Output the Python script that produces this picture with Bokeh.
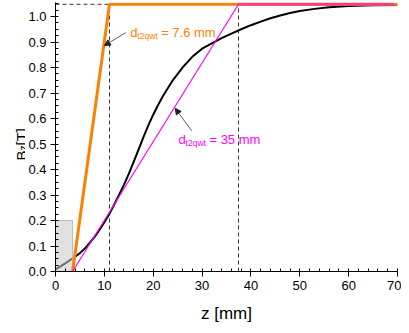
import math
from bokeh.plotting import figure
from bokeh.layouts import row
from bokeh.models import Range1d, Label, Arrow, NormalHead, SingleIntervalTicker, PrintfTickFormatter
from bokeh.core.properties import value
from bokeh.embed import file_html
from bokeh.resources import INLINE

# ---- data ----
z_meas = [0, 1, 2, 3, 4, 5, 6, 7, 8, 9, 10, 11, 12, 13, 14, 15, 16, 17, 18, 19, 20,
          21, 22, 24, 26, 28, 30, 32, 34, 36, 38, 40, 42, 44, 46, 48, 50, 53, 56, 60, 65, 70]
bz_meas = [0.008, 0.020, 0.032, 0.045, 0.058, 0.072, 0.090, 0.112, 0.136, 0.163, 0.193,
           0.225, 0.262, 0.300, 0.340, 0.383, 0.430, 0.478, 0.527, 0.573, 0.615,
           0.653, 0.688, 0.750, 0.800, 0.842, 0.874, 0.895, 0.915, 0.933, 0.950, 0.966,
           0.980, 0.993, 1.004, 1.014, 1.022, 1.030, 1.036, 1.041, 1.044, 1.045]

orange_z = [3.5, 11.05, 70.0]
orange_b = [0.0, 1.048, 1.048]
magenta_z = [3.5, 37.46, 69.2]
magenta_b = [0.0, 1.048, 1.048]

guide_x = [11.05, 37.46]
guide_top = 1.048

shade_x = [0.0, 3.5]
shade_y = [0.0, 0.2]

x_limits = [0, 70]
y_limits = [0, 1.055]

label_orange = ["d", "t2qwt", " = 7.6 mm"]
label_magenta = ["d", "t2qwt", " = 35 mm"]
y_title = ["B", "z", " [T]"]
x_title = "z [mm]"

FONT = "Liberation Sans"
ORANGE = "#FF8000"
MAGENTA = "#FF00FF"
PINK = "#F5407A"

H = 325
LW = 25

# ---------- main plot ----------
p = figure(width=401 - LW, height=H, output_backend="svg", toolbar_location=None,
           x_range=Range1d(*x_limits), y_range=Range1d(*y_limits),
           min_border_left=54 - LW, min_border_right=4, min_border_top=2, min_border_bottom=44)
p.outline_line_color = None
p.grid.visible = False
p.background_fill_color = "white"
p.border_fill_color = "white"

p.xaxis.ticker = SingleIntervalTicker(interval=10, num_minor_ticks=5)
p.yaxis.ticker = SingleIntervalTicker(interval=0.1, num_minor_ticks=4)
p.yaxis.formatter = PrintfTickFormatter(format="%.1f")
for ax in (p.xaxis[0], p.yaxis[0]):
    ax.axis_line_color = "black"
    ax.axis_line_width = 1
    ax.major_tick_line_color = "black"
    ax.minor_tick_line_color = "black"
    ax.major_tick_out = 5
    ax.major_tick_in = 0
    ax.minor_tick_out = 0
    ax.minor_tick_in = 3
    ax.major_label_text_font = FONT
    ax.major_label_text_font_size = "13px"
    ax.major_label_text_color = "black"
    ax.major_label_standoff = 4
p.xaxis.axis_label = x_title
p.xaxis.axis_label_text_font = FONT
p.xaxis.axis_label_text_font_size = "17px"
p.xaxis.axis_label_text_font_style = "normal"
p.xaxis.axis_label_text_color = "black"
p.xaxis.axis_label_standoff = 11

# dashed guides
p.segment(x0=guide_x, y0=[0, 0], x1=guide_x, y1=[guide_top, guide_top],
          line_color="#333333", line_width=1, line_dash="4 3")
p.segment(x0=[x_limits[0]], y0=[guide_top], x1=[guide_x[0]], y1=[guide_top],
          line_color="#333333", line_width=1, line_dash="4 3")

# measured curve
p.line(z_meas, bz_meas, line_color="black", line_width=2)

# shaded region
p.quad(left=[shade_x[0]], right=[shade_x[1]], bottom=[shade_y[0]], top=[shade_y[1]],
       fill_color="#C8C8C8", fill_alpha=0.55, line_color="#B8B8B8", line_width=1)

# ramps
p.line(orange_z, orange_b, line_color=ORANGE, line_width=3)
p.line(magenta_z[1:], magenta_b[1:], line_color=PINK, line_width=3)
p.line(magenta_z[:2], magenta_b[:2], line_color=MAGENTA, line_width=1.2)

# annotations with subscripts
def sub_label(x, y, parts, color, size=13, sub_size=8.5):
    dy = 3.6 / 264.0
    p.add_layout(Label(x=x, y=y, text=parts[0], text_font=FONT, text_font_size=f"{size}px",
                       text_color=color, text_baseline="alphabetic", text_align="left"))
    p.add_layout(Label(x=x, y=y - dy, x_offset=7.2, text=parts[1], text_font=FONT,
                       text_font_size=f"{sub_size}px", text_color=color,
                       text_baseline="alphabetic", text_align="left"))
    p.add_layout(Label(x=x, y=y, x_offset=31.0, text=parts[2], text_font=FONT,
                       text_font_size=f"{size}px", text_color=color,
                       text_baseline="alphabetic", text_align="left"))

sub_label(15.28, 0.937, label_orange, ORANGE)
sub_label(25.16, 0.516, label_magenta, MAGENTA)

p.add_layout(Arrow(end=NormalHead(size=6, fill_color="#222222", line_color="#222222"),
                   x_start=14.4, y_start=0.937, x_end=10.0, y_end=0.886,
                   line_color="#333333", line_width=0.8))
p.add_layout(Arrow(end=NormalHead(size=6, fill_color="#222222", line_color="#222222"),
                   x_start=27.86, y_start=0.552, x_end=24.5, y_end=0.640,
                   line_color="#333333", line_width=0.8))

# ---------- narrow strip holding the rotated y-axis title ----------
t = figure(frame_width=LW, frame_height=H, output_backend="svg", toolbar_location=None,
           x_range=Range1d(0, LW), y_range=Range1d(0, H),
           x_axis_location=None, y_axis_location=None,
           min_border_left=0, min_border_right=0, min_border_top=0, min_border_bottom=0)
t.outline_line_color = None
t.grid.visible = False
t.background_fill_color = "white"
t.border_fill_color = "white"

bx = 20.5
by = H - 158
t.text(x=[bx], y=[by], text=[y_title[0]], angle=math.pi / 2, text_font=value(FONT),
       text_font_size="15px", text_color="black", text_baseline="alphabetic", text_align="left")
t.text(x=[bx + 2.6], y=[by + 10], text=[y_title[1]], angle=math.pi / 2, text_font=value(FONT),
       text_font_size="10px", text_color="black", text_baseline="alphabetic", text_align="left")
t.text(x=[bx], y=[by + 15], text=[y_title[2]], angle=math.pi / 2, text_font=value(FONT),
       text_font_size="15px", text_color="black", text_baseline="alphabetic", text_align="left")

layout = row(t, p, spacing=0)
open("out.html", "w").write(file_html(layout, INLINE))
